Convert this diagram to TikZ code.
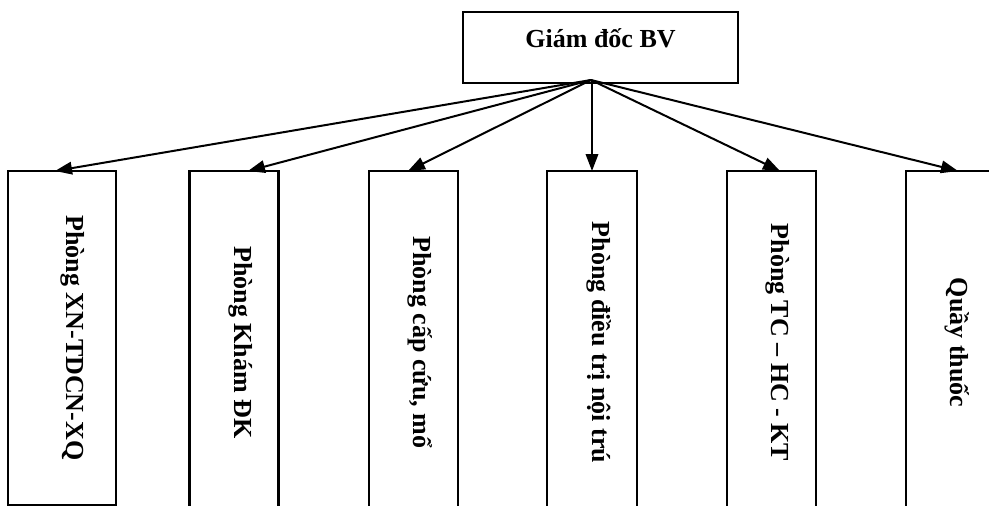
\documentclass[tikz,border=0pt]{standalone}
\usepackage{fontspec}
\setmainfont{Liberation Serif}
\usetikzlibrary{arrows.meta}

\begin{document}
\begin{tikzpicture}[x=1pt,y=-1pt,
        box/.style={draw, line width=2.1pt, inner sep=0pt, outer sep=0pt},
        dept/.style={box, minimum width=89pt, minimum height=343pt},
        boxtext/.style={anchor=base, font=\fontsize{26}{30}\selectfont\bfseries},
        depttext/.style={boxtext, rotate=-90},
        link/.style={line width=2pt, -{Triangle[length=17pt,width=12.5pt]}}]
        \useasboundingbox (0,0) rectangle (989,506);
        \clip (0,0) rectangle (989,506);
        % giam doc
        \node[box, minimum width=275pt, minimum height=71pt] (gd) at (600.5,47.5) {};
        \node[boxtext] (gd-t) at (gd.center) {Giám đốc BV};
        \coordinate (hub) at (591,80);
        % cac phong
        \node[box, minimum width=108pt, minimum height=334pt] (p1) at (62,338) {};
        \node[dept] (p2) at (234,342.5) {};
        \node[dept] (p3) at (413.5,342.5) {};
        \node[dept, minimum width=90pt] (p4) at (592,342.5) {};
        \node[dept] (p5) at (771.5,342.5) {};
        \node[dept] (p6) at (950.5,342.5) {};
        \node[depttext] (p1-t) at ([xshift=4pt]p1.center) {Phòng XN-TDCN-XQ};
        \node[depttext] (p2-t) at (p2.center) {Phòng Khám ĐK};
        \node[depttext] (p3-t) at (p3.center) {Phòng cấp cứu, mổ};
        \node[depttext] (p4-t) at (p4.center) {Phòng điều trị nội trú};
        \node[depttext] (p5-t) at (p5.center) {Phòng TC – HC - KT};
        \node[depttext] (p6-t) at (p6.center) {Quầy thuốc};
        \draw[link] (hub) -- ([xshift=-7pt]p1.north);
        \draw[link] (hub) -- ([xshift=14pt]p2.north);
        \draw[link] (hub) -- ([xshift=-5.5pt]p3.north);
        \draw[link] (hub -| p4.north) -- (p4.north);
        \draw[link] (hub) -- ([xshift=8.5pt]p5.north);
        \draw[link] (hub) -- ([xshift=7.5pt]p6.north);
    \end{tikzpicture}
\end{document}
